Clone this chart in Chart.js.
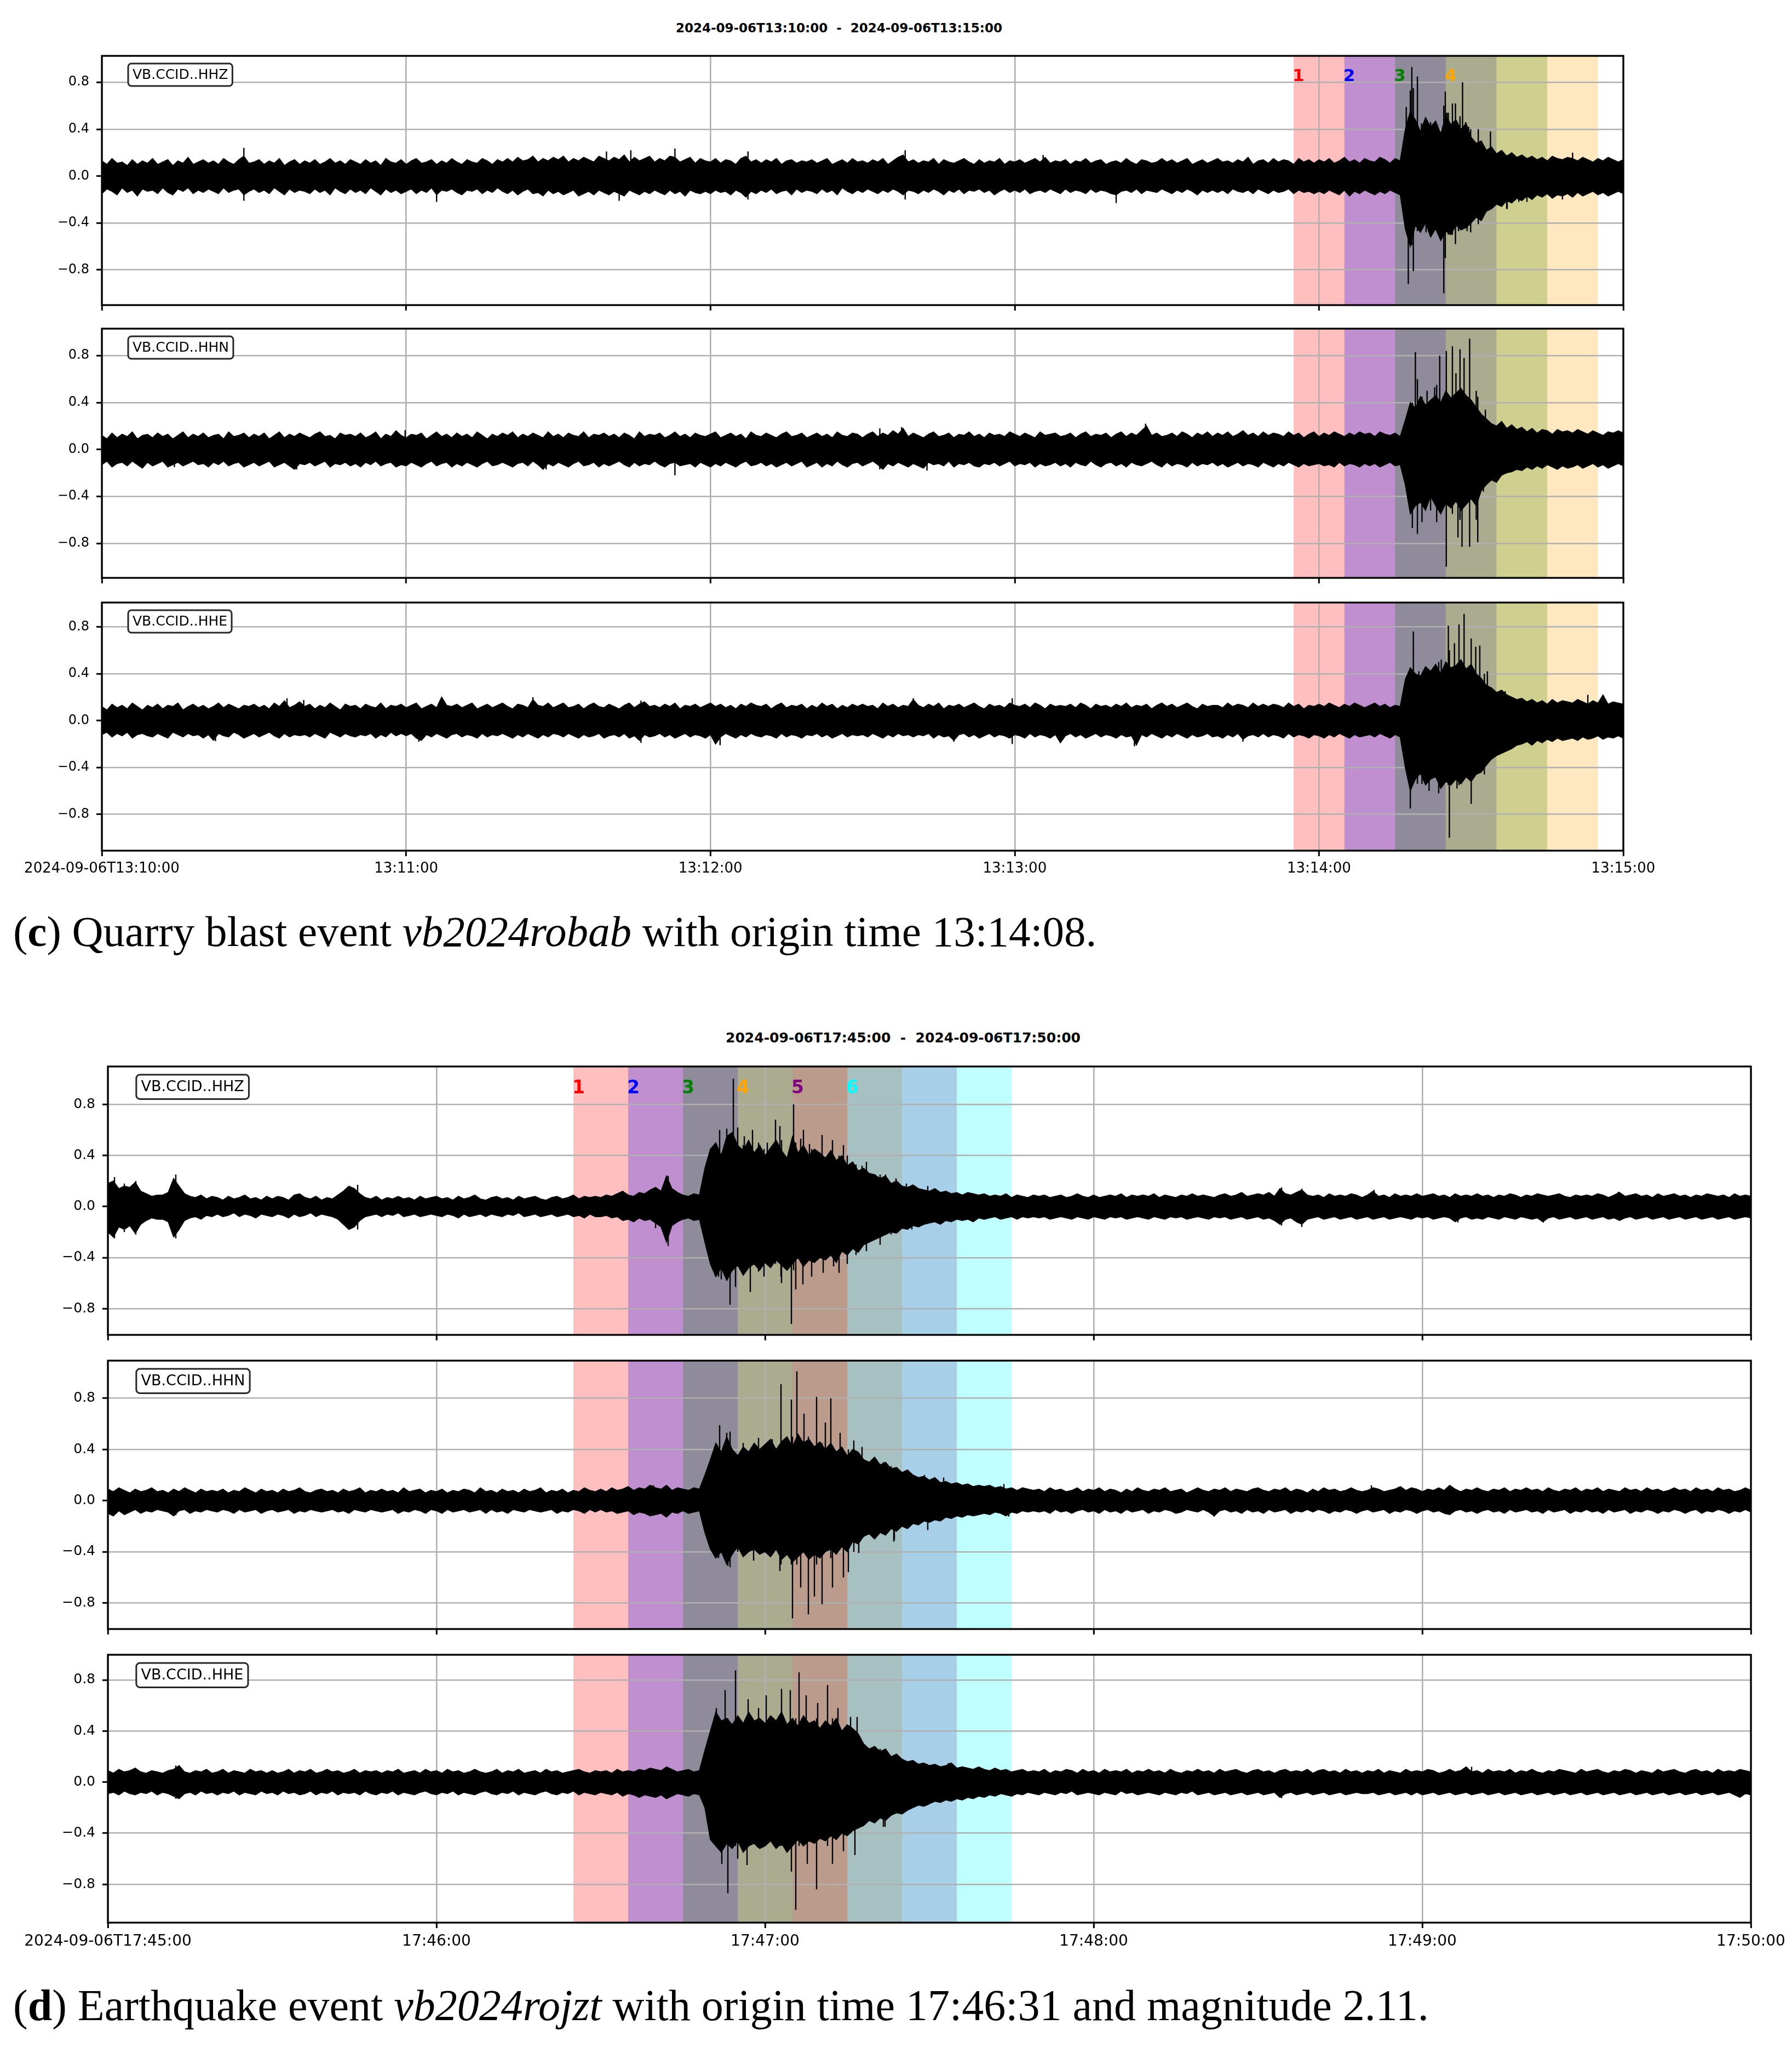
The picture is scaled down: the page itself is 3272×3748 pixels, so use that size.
<!DOCTYPE html>
<html>
<head>
<meta charset="utf-8">
<script src="https://cdn.jsdelivr.net/npm/chart.js@4.4.1/dist/chart.umd.min.js"></script>
<style>
  html, body { margin: 0; padding: 0; background: #fff; }
  body { width: 3272px; height: 3748px; position: relative; overflow: hidden; }
  .panel { position: absolute; left: 0; }
  .title { position: absolute; font-family: 'DejaVu Sans'; font-weight: bold; white-space: pre; line-height: 1; transform: translateX(-50%); color: #000; }
  .caption { position: absolute; left: 24px; font-family: 'Liberation Serif'; white-space: nowrap; color: #000; }
</style>
</head>
<body>
<div class="title" style="left:1532px; top:40px; font-size:23px;">2024-09-06T13:10:00  -  2024-09-06T13:15:00</div>
<div class="caption" style="top:1661px; font-size:79px; line-height:79px;">(<b>c</b>) Quarry blast event <i>vb2024robab</i> with origin time 13:14:08.</div>
<div class="title" style="left:1649px; top:1882px; font-size:25px;">2024-09-06T17:45:00  -  2024-09-06T17:50:00</div>
<div class="caption" style="top:3621px; font-size:80px; line-height:80px;">(<b>d</b>) Earthquake event <i>vb2024rojzt</i> with origin time 17:46:31 and magnitude 2.11.</div>

<script>
// ---- axis / annotation data ----
var tStep = 1; // envelope samples every second, 0..300 s after window start
var xTickSec = [0, 60, 120, 180, 240, 300];
var xLabelsC = ['2024-09-06T13:10:00', '13:11:00', '13:12:00', '13:13:00', '13:14:00', '13:15:00'];
var xLabelsD = ['2024-09-06T17:45:00', '17:46:00', '17:47:00', '17:48:00', '17:49:00', '17:50:00'];
var yTicks = [-0.8, -0.4, 0, 0.4, 0.8];
var stations = ['VB.CCID..HHZ', 'VB.CCID..HHN', 'VB.CCID..HHE'];
var winColors = ['255,0,0', '0,0,255', '0,128,0', '255,165,0', '128,0,128', '0,255,255'];
var winLabels = ['1', '2', '3', '4', '5', '6'];
var winStartC = [235, 245, 255, 265];
var winStartD = [85, 95, 105, 115, 125, 135];
var winLen = 30;
var yMinC = [-1.10, -1.095, -1.11];
var yMaxC = [1.025, 1.03, 1.007];
var yMinD = [-1.006, -1.004, -1.10];
var yMaxD = [1.097, 1.094, 0.997];

// ---- traces: upper / lower envelope per second, amplitude in hundredths ----
var c1Up = [13,10,15,11,12,9,14,10,13,11, 15,10,12,14,9,13,11,16,10,12, 14,11,13,10,15,12,10,14,17,11,
  12,14,10,13,11,15,9,12,14,10, 13,11,14,10,12,15,11,13,10,14, 12,10,14,11,13,9,15,12,11,14,
  10,13,15,11,12,14,10,13,11,15, 12,10,14,12,11,15,13,10,14,12, 15,12,16,13,14,17,12,15,13,16,
  14,17,12,15,13,16,14,12,17,15, 13,16,14,18,12,16,13,15,17,12, 15,13,17,16,12,14,16,11,15,13,
  12,15,11,14,13,10,15,17,12,14, 11,14,12,15,10,13,14,11,13,12, 14,11,13,15,10,12,14,11,15,12,
  13,11,14,12,15,10,13,16,18,12, 14,11,13,12,15,10,14,12,11,13, 15,12,10,14,11,13,12,15,10,13,
  12,14,11,13,15,12,16,11,13,12, 14,10,13,12,15,11,13,14,10,12, 13,11,15,12,10,14,13,11,12,15,
  12,14,11,13,15,10,12,14,11,13, 15,12,13,11,14,12,16,10,13,14, 11,15,12,14,13,10,15,12,14,11,
  14,12,15,11,13,16,12,14,11,15, 13,12,16,14,11,15,13,40,55,48, 38,50,42,47,36,52,44,48,40,45,
  33,28,30,22,25,19,22,17,20,16, 18,15,17,14,16,13,17,15,14,16, 15,13,16,14,12,15,13,16,14,12, 14];
var c1Lo = [-15,-11,-13,-16,-10,-14,-12,-17,-11,-13, -12,-15,-10,-14,-16,-11,-13,-10,-15,-12, -14,-11,-13,-15,-10,-14,-12,-11,-16,-13,
  -11,-14,-12,-15,-10,-13,-16,-11,-14,-12, -13,-15,-11,-14,-12,-16,-10,-13,-15,-11, -14,-12,-15,-10,-13,-16,-11,-14,-12,-15,
  -13,-11,-15,-12,-14,-10,-16,-12,-13,-11, -14,-16,-12,-13,-11,-15,-12,-14,-10,-13, -15,-12,-16,-13,-11,-15,-14,-17,-12,-15,
  -13,-16,-14,-12,-17,-15,-13,-16,-12,-14, -16,-13,-15,-17,-12,-14,-16,-13,-15,-12, -14,-16,-12,-15,-13,-17,-12,-14,-15,-13,
  -15,-12,-14,-13,-16,-12,-14,-18,-13,-15, -12,-14,-11,-15,-13,-12,-16,-11,-14,-12, -13,-15,-11,-14,-12,-16,-10,-13,-15,-12,
  -14,-11,-13,-15,-12,-14,-11,-13,-16,-12, -13,-15,-12,-14,-11,-13,-16,-12,-14,-11, -15,-12,-13,-11,-14,-12,-16,-13,-11,-14,
  -12,-14,-11,-15,-13,-12,-14,-11,-13,-15, -11,-14,-12,-13,-15,-11,-14,-12,-13,-15, -16,-13,-12,-14,-11,-15,-12,-13,-14,-11,
  -13,-15,-12,-14,-11,-13,-16,-12,-14,-12, -14,-12,-15,-11,-13,-14,-12,-15,-11,-13, -15,-12,-14,-13,-11,-15,-12,-14,-13,-15,
  -13,-15,-12,-14,-16,-12,-17,-13,-15,-12, -14,-16,-13,-15,-12,-14,-16,-45,-60,-42, -48,-40,-52,-45,-55,-47,-50,-42,-46,-44,
  -40,-35,-38,-30,-28,-24,-26,-21,-23,-19, -21,-17,-20,-16,-18,-15,-19,-16,-17,-15, -18,-14,-17,-15,-13,-16,-14,-17,-15,-13, -15];
var c1NT = [28, 66, 99.5, 102, 104.3, 113, 127.4, 158.4, 185.6, 200, 246, 257.2, 257.6, 258.0, 258.3, 258.6, 259.4, 261.1,
  264.6, 264.9, 265.5, 266.3, 266.9, 268.3, 268.9, 269.9, 271.4, 272.5, 277, 281, 288, 290,
  260.2, 262, 263.1, 265.2, 267.8, 269.5, 271.4, 273.8, 261.2, 262.6, 263.7, 267.5, 269.2, 272.2, 275.1, 277.1, 279.4];
var c1NH = [24, 10, 21, 12, 22, 23.5, 21, 22, 18, 12, 12, 59, 50, 73, 93, 75, 85, 45, 60, 72, 54, 62, 62, 80, 46, 40, 30, 25, 18, 15, 12, 20,
  45, 46, 45, 54, 51, 42, 40, 38, 0, 0, 0, 0, 0, 0, 0, 0, 0];
var c1NL = [-21, -22, -14, -21, -12, -14, -20, -20, -12, -23, -17, -40, -92, -45, -59, -81, -47, -48, -100, -70, -50, -50, -58, -45, -40, -48, -41, -33, -28, -22, -20, -14,
  0, 0, 0, 0, 0, 0, 0, 0, -41, -41, -46, -47, -47, -33, -24, -28, -22];

var c2Up = [12,9,14,10,13,11,15,9,12,13, 10,14,11,13,9,12,15,10,13,11, 14,10,12,13,9,15,11,12,14,10,
  13,11,14,9,12,15,10,13,11,14, 12,10,13,15,11,12,9,14,12,13, 11,14,10,12,15,9,13,11,16,12,
  10,13,12,14,9,12,15,11,13,10, 14,11,13,10,15,12,9,13,11,14, 12,15,10,13,11,14,12,10,15,11,
  13,10,14,12,11,15,10,13,12,14, 11,13,10,14,12,9,15,11,13,12, 14,10,12,15,11,13,10,14,12,11,
  13,15,10,12,14,11,13,9,15,12, 11,14,12,10,13,15,11,12,14,10, 12,14,11,13,10,15,12,11,14,13,
  10,13,15,11,14,12,16,13,18,11, 14,12,10,13,15,11,12,14,10,13, 12,15,11,13,10,14,12,13,11,15,
  13,11,14,12,10,15,12,13,14,11, 12,14,10,13,15,11,13,12,14,10, 13,15,11,14,12,16,20,12,14,11,
  12,14,11,15,13,10,14,12,15,11, 14,12,15,11,13,16,12,14,11,15, 12,14,13,11,15,12,14,10,13,15,
  11,14,12,15,13,11,14,12,15,13, 14,11,15,13,12,14,11,25,40,35, 45,38,42,46,40,50,44,48,52,46,
  42,36,30,26,22,20,24,18,21,17, 19,15,18,14,17,16,13,17,15,16, 14,17,15,13,16,14,12,15,14,16, 14];
var c2Lo = [-13,-10,-15,-12,-11,-14,-10,-13,-16,-11, -14,-12,-10,-15,-13,-11,-14,-12,-10,-13, -12,-15,-11,-13,-10,-14,-12,-11,-15,-13,
  -11,-14,-12,-10,-15,-13,-11,-14,-17,-12, -13,-11,-14,-12,-10,-15,-12,-13,-11,-14, -12,-15,-11,-13,-10,-14,-12,-11,-15,-13,
  -14,-11,-13,-15,-12,-10,-14,-12,-11,-15, -12,-14,-11,-13,-15,-12,-10,-14,-13,-11, -13,-15,-12,-11,-14,-10,-13,-17,-12,-14,
  -11,-13,-15,-12,-10,-14,-13,-11,-15,-12, -14,-12,-10,-13,-15,-11,-14,-12,-13,-10, -13,-15,-12,-11,-14,-13,-12,-15,-11,-13,
  -15,-12,-14,-11,-13,-15,-12,-10,-14,-13, -11,-14,-12,-15,-13,-11,-14,-12,-10,-15, -13,-11,-15,-12,-14,-10,-13,-15,-12,-11,
  -14,-12,-10,-13,-17,-12,-14,-11,-13,-15, -12,-14,-16,-11,-13,-12,-14,-10,-15,-12, -13,-11,-14,-15,-12,-13,-11,-14,-12,-10,
  -14,-12,-13,-11,-15,-12,-14,-13,-11,-14, -12,-15,-11,-13,-14,-10,-13,-15,-12,-11, -14,-12,-15,-11,-13,-14,-12,-10,-13,-15,
  -11,-14,-12,-13,-15,-11,-14,-12,-13,-11, -14,-12,-15,-13,-11,-14,-12,-13,-15,-11, -13,-15,-12,-14,-11,-13,-15,-12,-14,-13,
  -12,-14,-13,-15,-11,-14,-12,-13,-15,-12, -14,-12,-15,-13,-11,-14,-13,-30,-55,-48, -45,-52,-40,-48,-55,-46,-50,-44,-52,-47,
  -42,-48,-35,-30,-26,-28,-22,-20,-19,-17, -18,-15,-17,-14,-16,-13,-15,-17,-14,-16, -15,-13,-16,-14,-12,-15,-13,-16,-14,-12, -14];
var c2NT = [14.3, 38.4, 59.8, 87.6, 113, 153.4, 157.7, 162.7, 205.8, 258.4, 259, 259.4, 260.3, 261.3, 263.2, 263.8, 265.1, 266.3,
  267.8, 269.7, 271, 271.3, 274.8, 277.6, 289.2,
  261.3, 262.8, 267, 268.6, 272.8, 276.3, 262, 267.4, 268.2, 272.4];
var c2NH = [10, 11, 16.5, 10, 10, 18, 19, 11, 22, 40, 83, 60, 45, 50, 55, 80, 84, 88, 85.5, 94.5, 50, 45, 20, 19, 12,
  45, 53, 65, 78, 34, 19, 0, 0, 0, 0];
var c2NL = [-15, -17, -12, -17, -22, -17, -12, -18, -11, -67, -45, -72, -62, -42, -62, -50, -100, -55, -60, -83, -60, -79, -25, -19, -14,
  0, 0, 0, 0, 0, 0, -52, -75, -83, -36];

var c3Up = [12,9,14,11,13,10,15,12,9,13, 11,14,10,13,12,15,9,12,14,11, 13,10,12,15,11,14,12,10,13,12,
  14,11,13,10,15,12,17,11,13,16, 12,14,10,13,11,15,12,9,14,12, 13,10,14,12,11,15,10,13,12,14,
  11,13,15,10,12,14,11,20,13,12, 14,11,13,15,10,12,14,11,13,15, 12,10,14,13,11,18,13,12,15,11,
  13,15,11,12,14,10,13,15,12,11, 14,12,10,13,15,11,14,16,12,13, 11,14,12,15,10,13,12,14,11,13,
  15,12,14,11,13,10,14,12,15,13, 12,14,10,13,15,11,13,12,14,10, 13,11,15,12,14,10,13,11,14,12,
  14,12,13,10,15,12,14,11,13,12, 18,13,11,14,12,15,10,13,12,14, 11,13,15,12,10,14,12,13,11,15,
  13,12,14,11,15,13,10,14,12,13, 12,14,11,15,13,10,14,12,13,11, 14,12,15,11,13,12,14,10,13,15,
  12,14,11,13,15,12,10,14,12,13, 13,11,15,12,14,13,11,15,12,14, 12,14,13,11,15,12,14,10,13,12,
  14,12,15,13,11,14,12,15,13,11, 13,15,12,14,11,13,12,35,45,40, 38,46,42,48,40,50,45,47,52,44,
  48,40,36,30,28,24,26,22,20,18, 19,16,18,15,17,14,18,15,17,16, 15,18,16,14,17,15,22,14,16,15, 14];
var c3Lo = [-12,-10,-14,-11,-13,-10,-15,-12,-11,-13, -14,-11,-13,-15,-10,-12,-14,-11,-13,-12, -15,-12,-17,-11,-13,-14,-10,-12,-15,-13,
  -11,-14,-12,-10,-13,-15,-11,-14,-12,-13, -12,-14,-11,-13,-15,-10,-12,-14,-11,-13, -14,-12,-13,-11,-15,-12,-14,-10,-13,-11,
  -13,-11,-15,-17,-12,-14,-11,-13,-15,-12, -11,-14,-12,-13,-15,-11,-14,-12,-13,-11, -13,-15,-12,-14,-11,-13,-15,-12,-14,-11,
  -12,-14,-11,-13,-15,-12,-14,-13,-11,-15, -13,-12,-14,-11,-15,-13,-17,-12,-14,-13, -11,-14,-12,-15,-13,-11,-14,-12,-13,-15,
  -12,-20,-14,-11,-13,-15,-12,-14,-11,-13, -14,-12,-13,-15,-11,-14,-12,-13,-15,-12, -13,-11,-14,-12,-15,-13,-11,-14,-12,-13,
  -12,-14,-11,-13,-15,-12,-14,-11,-13,-12, -14,-12,-13,-11,-15,-12,-14,-13,-17,-12, -11,-14,-12,-15,-13,-11,-14,-12,-13,-15,
  -12,-13,-15,-11,-14,-12,-13,-15,-12,-19, -13,-11,-14,-12,-15,-13,-11,-14,-12,-13, -15,-12,-14,-13,-21,-12,-14,-11,-13,-15,
  -12,-14,-11,-13,-15,-12,-14,-13,-11,-14, -13,-15,-12,-14,-11,-16,-13,-12,-14,-11, -14,-12,-13,-15,-11,-14,-12,-13,-15,-12,
  -13,-15,-12,-14,-11,-13,-15,-12,-14,-13, -12,-14,-11,-13,-15,-12,-14,-40,-60,-50, -45,-55,-50,-48,-58,-52,-55,-50,-54,-48,
  -52,-46,-44,-38,-33,-30,-28,-26,-24,-21, -20,-18,-21,-17,-19,-16,-18,-15,-17,-16, -15,-17,-14,-16,-15,-13,-16,-14,-15,-13, -15];
var c3NT = [22.4, 36.5, 39.8, 62.5, 67, 85, 106.3, 121.9, 160, 168, 179.5, 203.6, 225, 258, 258.6, 260.3, 263.6, 265.5, 265.7,
  267.6, 268.6, 270, 271.7, 272.6, 276.7, 293,
  259.7, 262.4, 264.1, 266.7, 270.9, 273.2, 259.4, 261.7, 267.2];
var c3NH = [10, 19, 17.5, 10, 20, 20, 17, 11, 19, 10, 19, 10, 11, 45, 76, 40, 50, 81, 60, 82, 91, 70, 64, 40, 25, 22,
  42, 36, 52, 66, 63, 42, 0, 0, 0];
var c3NL = [-17.5, -10, -11, -18, -10, -11, -19, -21, -10, -18, -20, -22, -18, -75, -50, -54, -62, -55, -100, -55, -50, -71, -45, -46, -26, -12,
  0, 0, 0, 0, 0, 0, -54, -60, -58];

var d1Up = [18,20,14,16,15,19,12,10,8,9, 9,11,22,16,10,8,7,9,6,8, 7,5,8,6,7,9,6,7,5,8,
  6,8,7,5,9,10,7,6,8,5, 7,6,9,12,16,14,10,7,6,8, 5,7,6,8,6,7,5,8,6,7,
  8,6,7,5,8,6,7,9,6,5, 7,8,6,7,5,8,6,7,8,6, 5,7,8,6,7,9,6,8,7,8,
  7,9,8,10,12,9,8,11,10,13, 15,12,24,14,11,9,8,10,9,30, 45,50,40,55,58,48,44,52,42,48,
  40,46,52,44,38,55,42,48,40,45, 42,38,44,36,40,32,35,28,30,26, 25,22,24,18,20,16,15,17,14,13,
  12,14,11,12,10,11,9,11,10,9, 10,8,9,8,10,7,9,8,7,9, 8,9,7,8,9,7,8,10,8,7,
  9,7,8,9,8,10,7,9,8,9, 8,10,7,9,8,7,9,8,10,8, 9,8,7,9,10,8,9,11,8,9,
  10,9,11,8,14,10,9,11,13,9, 8,9,7,10,8,9,8,10,9,7, 9,12,8,9,7,10,8,9,8,10,
  8,9,10,8,9,7,10,8,9,8, 10,8,9,7,9,8,10,9,7,9, 8,10,9,8,9,10,8,7,9,8,
  9,8,10,9,7,9,11,8,9,10, 8,9,7,10,8,9,10,8,9,7, 9,8,10,9,8,9,7,10,8,9, 8];
var d1Lo = [-20,-24,-16,-18,-15,-21,-14,-11,-9,-10, -10,-12,-24,-18,-11,-9,-8,-10,-7,-8, -6,-8,-7,-5,-8,-6,-7,-9,-6,-7,
  -8,-6,-7,-9,-6,-8,-7,-5,-8,-6, -7,-8,-10,-14,-18,-16,-11,-8,-7,-6, -8,-6,-7,-5,-8,-7,-6,-8,-7,-6,
  -7,-8,-6,-7,-9,-6,-8,-7,-6,-8, -6,-7,-8,-6,-7,-5,-8,-7,-6,-8, -7,-6,-8,-7,-6,-8,-7,-9,-6,-8,
  -8,-7,-9,-8,-11,-10,-12,-9,-11,-10, -13,-16,-28,-15,-12,-10,-9,-11,-10,-28, -45,-55,-48,-58,-50,-46,-54,-48,-45,-50,
  -44,-48,-42,-46,-50,-45,-40,-47,-42,-44, -40,-42,-38,-44,-35,-38,-33,-36,-30,-28, -26,-24,-22,-20,-21,-17,-18,-15,-16,-14,
  -13,-12,-14,-11,-12,-10,-11,-10,-12,-9, -10,-9,-8,-10,-9,-8,-10,-8,-9,-8, -9,-8,-10,-9,-8,-9,-10,-8,-9,-10,
  -8,-9,-10,-8,-9,-8,-10,-9,-8,-9, -10,-8,-9,-10,-8,-9,-8,-10,-9,-8, -9,-10,-8,-9,-8,-10,-9,-8,-10,-9,
  -8,-10,-9,-11,-14,-10,-9,-12,-14,-10, -9,-8,-10,-9,-8,-10,-9,-8,-10,-9, -8,-10,-9,-8,-10,-9,-8,-9,-10,-8,
  -9,-8,-10,-9,-8,-9,-12,-9,-8,-10, -9,-10,-8,-9,-10,-8,-9,-10,-8,-9, -10,-9,-12,-9,-8,-10,-9,-8,-10,-9,
  -8,-10,-9,-8,-10,-9,-11,-9,-8,-10, -9,-8,-10,-9,-8,-10,-9,-8,-10,-9, -8,-10,-9,-8,-10,-9,-8,-10,-9,-8, -9];
var d1NT = [1.2, 3.0, 5.1, 12.4, 35, 45.6, 100, 102.3, 111.5, 111.7, 113.6, 114.2, 115, 117.3, 118.8, 121.9, 124.8, 125.2, 125.6,
  130.4, 132.3, 133.5, 136.6, 141, 142, 146.8, 149.7, 214.3, 218, 231.2, 246.5, 262.1, 275.8,
  110.5, 112.5, 116.2, 119.8, 123, 127, 128.5, 135, 138.5,
  110.2, 113, 116, 117.7, 120.4, 122.7, 126.5, 128.1, 134.3, 137.7, 143.9, 145.8,
  110.7, 112, 114.6, 118.8, 122.9, 126.9, 130.6, 132.5, 139.1, 143];
var d1NH = [23, 18, 20, 25, 10, 17, 15, 24, 40, 60, 45, 100, 62, 45, 50, 68, 50, 80, 50, 56, 52, 40, 33, 25, 25, 15, 16, 15, 14, 13, 8, 8, 11.5,
  35, 48, 55, 45, 52, 60, 45, 40, 35,
  42, 61, 48, 60, 50, 63, 53, 49, 48, 32, 22, 18,
  0, 0, 0, 0, 0, 0, 0, 0, 0, 0];
var d1NL = [-25, -20, -22, -25, -7, -18, -17, -31, -55, -40, -77, -50, -47, -67, -40, -45, -92, -50, -65, -40, -40, -52, -38, -30, -20, -18, -12,
  -15, -16, -8, -12.5, -12.5, -8, -38, -50, -40, -55, -60, -45, -55, -45, -35,
  0, 0, 0, 0, 0, 0, 0, 0, 0, 0, 0, 0,
  -44, -57, -63, -51, -55, -61, -52, -47, -27, -22];

var d2Up = [9,7,10,8,6,9,7,8,10,7, 8,6,9,7,10,8,6,9,7,8, 7,9,6,8,7,10,8,6,9,7,
  8,6,9,7,8,10,7,6,8,9, 7,8,6,9,7,8,10,6,8,7, 9,7,8,6,10,7,8,9,6,8,
  7,9,6,8,7,9,8,6,10,7, 8,6,9,7,8,6,9,7,8,10, 6,8,7,9,6,8,7,10,8,7,
  9,7,10,8,9,11,8,10,9,12, 10,9,12,8,10,9,8,10,9,20, 32,45,38,50,40,35,42,38,45,40,
  44,48,40,46,50,42,52,45,48,42, 46,40,45,38,42,35,40,38,32,30, 34,28,30,25,26,22,24,20,18,19,
  16,18,14,15,13,14,12,13,11,12, 11,12,10,11,9,10,8,10,9,8, 9,7,10,8,9,7,8,10,7,9,
  8,10,7,9,8,6,9,7,10,8, 7,9,8,10,7,8,9,6,8,10, 8,7,9,8,10,7,9,8,7,9,
  10,8,7,9,8,10,7,9,8,6, 9,7,10,8,9,7,8,10,8,7, 8,10,9,7,8,9,11,8,10,9,
  7,9,8,10,8,12,9,7,9,8, 10,8,7,9,8,10,7,9,8,10, 8,9,7,10,8,7,9,8,10,7,
  9,8,10,7,9,8,7,10,8,9, 7,10,8,9,7,8,10,8,9,7, 10,8,9,7,10,8,9,7,8,10, 8];
var d2Lo = [-10,-12,-8,-11,-9,-7,-10,-8,-9,-7, -8,-9,-12,-8,-7,-10,-8,-9,-7,-8, -9,-7,-8,-10,-7,-9,-8,-7,-10,-8,
  -7,-9,-8,-7,-10,-8,-9,-7,-8,-9, -8,-7,-9,-8,-10,-7,-8,-9,-7,-8, -9,-8,-7,-10,-8,-9,-7,-8,-10,-7,
  -8,-10,-7,-9,-8,-7,-9,-8,-7,-10, -7,-9,-8,-10,-7,-8,-9,-7,-8,-9, -8,-7,-10,-8,-9,-7,-8,-10,-7,-9,
  -7,-9,-8,-10,-9,-8,-11,-9,-10,-12, -11,-10,-13,-9,-10,-8,-10,-9,-8,-25, -38,-45,-40,-50,-42,-36,-44,-40,-38,-42,
  -40,-44,-38,-46,-42,-48,-44,-40,-46,-42, -45,-40,-38,-42,-36,-40,-32,-34,-28,-26, -30,-25,-27,-22,-24,-20,-22,-18,-19,-16,
  -17,-15,-16,-13,-14,-12,-13,-11,-12,-11, -10,-11,-9,-10,-12,-9,-10,-8,-9,-8, -9,-8,-10,-7,-9,-8,-10,-8,-7,-9,
  -8,-10,-7,-9,-8,-10,-7,-9,-8,-7, -10,-8,-9,-7,-8,-10,-9,-7,-8,-9, -7,-9,-12,-8,-7,-9,-8,-10,-7,-9,
  -8,-10,-7,-9,-8,-7,-10,-8,-9,-7, -9,-7,-8,-10,-8,-9,-7,-8,-10,-8, -7,-9,-8,-7,-10,-8,-9,-7,-8,-10,
  -8,-7,-9,-8,-10,-11,-8,-7,-9,-8, -10,-8,-7,-9,-8,-10,-7,-9,-8,-7, -9,-8,-10,-7,-9,-8,-7,-10,-8,-9,
  -7,-9,-8,-10,-7,-9,-8,-7,-10,-8, -9,-7,-8,-10,-8,-9,-7,-8,-10,-8, -7,-10,-8,-9,-7,-8,-10,-8,-9,-7, -9];
var d2NT = [111.5, 111.7, 113.6, 120.8, 122.9, 124.8, 125, 125.8, 127.9, 129.4, 130.4, 132, 135.2, 136.2, 137.1, 143, 143.5, 149.1,
  149.7, 163.6, 164.5, 3.2, 12.4, 99.6, 102, 202, 230.7, 245,
  113, 116, 118.8, 121.3, 127.1, 131, 133.7, 137.7, 141.6, 146.8, 152.6,
  113.2, 115, 117.9, 122.7, 126.5, 129, 132.3, 134.3, 140, 143.6, 147.8];
var d2NH = [40, 59, 54, 45, 91, 79, 50, 101, 50, 81, 45, 80, 40, 47, 35, 27, 20, 20, 15, 13, 8, 6, 6, 12, 8, 6, 12, 11,
  53, 45, 49, 48, 68, 61, 53, 42, 30, 20, 18,
  0, 0, 0, 0, 0, 0, 0, 0, 0, 0, 0];
var d2NL = [-45, -40, -52, -41, -50, -50, -92, -50, -89, -50, -81, -45, -56, -40, -41, -22, -32, -15, -23, -8, -12.5, -11, -11.5, -8, -12.5, -12.5, -7, -10,
  0, 0, 0, 0, 0, 0, 0, 0, 0, 0, 0,
  -51, -40, -47, -55, -68, -75, -68, -60, -25, -31, -18];

var d3Up = [9,7,10,8,9,11,8,7,9,8, 7,9,10,13,8,7,9,8,10,7, 8,10,7,9,8,7,10,8,9,7,
  9,7,8,10,7,9,8,10,7,8, 10,8,9,7,8,10,7,9,8,9, 7,9,8,10,7,8,9,7,10,8,
  9,7,10,8,9,7,8,10,8,7, 8,10,7,9,8,10,7,8,9,7, 10,8,9,7,8,9,10,8,7,9,
  8,9,7,10,8,9,8,10,9,11, 10,9,12,10,8,9,10,8,9,25, 40,55,48,50,45,52,46,55,48,50,
  46,52,48,55,45,50,44,52,46,48, 42,48,44,50,40,45,42,38,30,26, 28,24,26,20,22,18,16,17,14,15,
  13,14,12,13,15,11,12,11,10,12, 10,9,11,9,10,8,9,10,8,9, 8,10,7,9,8,10,9,7,10,8,
  9,7,10,8,9,8,10,7,9,8, 10,8,9,7,10,8,7,9,8,10, 8,9,7,10,8,9,10,8,7,9,
  10,8,9,7,9,10,8,9,8,10, 7,9,10,8,9,7,10,8,9,7, 9,8,10,7,9,8,7,10,8,9,
  8,10,9,7,8,10,8,9,12,8, 9,7,10,8,9,8,10,7,9,8, 10,8,7,9,8,10,9,8,7,10,
  8,9,10,8,7,9,8,10,9,7, 9,8,7,10,8,9,10,8,7,9, 10,8,9,7,10,8,9,8,10,9, 8];
var d3Lo = [-9,-8,-10,-7,-9,-10,-8,-9,-7,-10, -8,-9,-11,-13,-9,-8,-10,-7,-9,-8, -10,-8,-9,-7,-10,-8,-9,-10,-7,-9,
  -8,-10,-7,-9,-8,-10,-9,-7,-10,-8, -9,-7,-10,-8,-9,-8,-10,-7,-9,-10, -8,-9,-7,-10,-8,-9,-10,-8,-7,-9,
  -10,-8,-9,-7,-10,-8,-9,-10,-8,-7, -9,-10,-8,-9,-7,-10,-8,-9,-10,-8, -7,-9,-10,-8,-9,-7,-10,-8,-9,-10,
  -8,-9,-10,-8,-11,-9,-10,-12,-10,-11, -12,-10,-13,-11,-9,-10,-11,-9,-10,-20, -45,-50,-55,-48,-52,-46,-55,-50,-48,-52,
  -50,-46,-52,-48,-55,-50,-45,-50,-46,-48, -44,-46,-42,-45,-40,-42,-38,-36,-34,-30, -32,-28,-30,-26,-24,-25,-22,-20,-18,-19,
  -17,-15,-16,-14,-15,-13,-14,-12,-13,-11, -12,-10,-11,-9,-10,-11,-9,-10,-8,-9, -10,-8,-9,-10,-8,-9,-7,-10,-9,-8,
  -9,-10,-8,-9,-10,-7,-9,-8,-10,-9, -8,-9,-10,-8,-9,-10,-8,-9,-7,-10, -9,-8,-10,-9,-8,-10,-9,-8,-10,-9,
  -8,-10,-9,-8,-12,-9,-8,-10,-9,-8, -10,-9,-8,-10,-9,-8,-10,-9,-8,-9, -9,-8,-10,-9,-8,-10,-9,-8,-10,-8,
  -10,-9,-8,-10,-9,-8,-10,-9,-8,-10, -9,-8,-10,-9,-8,-10,-9,-8,-10,-9, -8,-10,-9,-8,-10,-9,-8,-10,-9,-8,
  -10,-9,-8,-10,-9,-8,-10,-9,-8,-10, -9,-8,-10,-9,-8,-10,-9,-8,-10,-9, -8,-10,-9,-8,-10,-9,-8,-10,-12,-9, -10];
var d3NT = [114.6, 126.2, 123, 120.2, 131.4, 135.6, 111.1, 141, 153.5, 113.2, 125.6, 129.4, 116.7, 132.3, 136.4, 141.6, 110, 149.7,
  12.4, 5, 102, 214.3, 249,
  112.7, 116.9, 118.8, 124.6, 127.5, 129.6, 133.3, 136.8, 140, 145.8, 148.7,
  112.1, 115, 118.6, 122.7, 124.8, 127.7, 134.3, 138.1, 141.9];
var d3NH = [87.5, 86, 73, 68, 76, 51, 58, 26, 15, 50, 50, 50, 45, 50, 40, 20, 30, 12, 13, 11, 11, 7, 12,
  72, 65, 58, 72, 68, 62, 58, 51, 26, 16, 15,
  0, 0, 0, 0, 0, 0, 0, 0, 0];
var d3NL = [-50, -50, -50, -45, -50, -40, -45, -25, -12, -87, -100, -84, -65, -64, -57, -35, -18, -18, -13, -8, -12, -12.5, -7,
  0, 0, 0, 0, 0, 0, 0, 0, 0, 0, 0,
  -64, -60, -51, -50, -70, -64, -54, -28, -35];

// ---- layout ----
var W = 3272;
var PAD_T = 40;

var times = [];
for (var t = 0; t <= 300; t += tStep) times.push(t);

function envelope(vals) {
  return vals.map(function (v, i) { return { x: times[i], y: v / 100 }; });
}

function needles(nT, nH, nL) {
  var pts = [];
  nT.forEach(function (t, i) {
    pts.push({ x: t, y: nL[i] / 100 }, { x: t, y: nH[i] / 100 }, { x: t, y: null });
  });
  return pts;
}

function fmtY(v) {
  return (v < 0 ? '\u2212' : '') + Math.abs(v).toFixed(1);
}

// shaded analysis windows, under the grid
var bandsPlugin = {
  id: 'bands',
  beforeDraw: function (chart, args, o) {
    var ctx = chart.ctx, a = chart.chartArea, x = chart.scales.x;
    ctx.save();
    ctx.beginPath();
    ctx.rect(a.left, a.top, a.right - a.left, a.bottom - a.top);
    ctx.clip();
    o.starts.forEach(function (s, i) {
      var x0 = x.getPixelForValue(s), x1 = x.getPixelForValue(s + winLen);
      ctx.fillStyle = 'rgba(' + winColors[i] + ',0.25)';
      ctx.fillRect(x0, a.top, x1 - x0, a.bottom - a.top);
    });
    ctx.restore();
  }
};

// window numbers, station box and frame on top
var overlayPlugin = {
  id: 'overlay',
  afterDraw: function (chart, args, o) {
    var ctx = chart.ctx, a = chart.chartArea, x = chart.scales.x, s = o.s;
    ctx.save();
    if (o.numbers) {
      ctx.font = 'bold ' + Math.round(31 * s) + 'px "DejaVu Sans"';
      ctx.textAlign = 'left';
      ctx.textBaseline = 'alphabetic';
      o.starts.forEach(function (st, i) {
        ctx.fillStyle = 'rgb(' + winColors[i] + ')';
        ctx.fillText(winLabels[i], x.getPixelForValue(st) - 2, a.top + 0.1 * (a.bottom - a.top));
      });
    }
    ctx.font = Math.round(25 * s) + 'px "DejaVu Sans"';
    var tw = ctx.measureText(o.station).width;
    var bx = a.left + 48 * s, by = a.top + 14 * s, bw = tw + 16 * s, bh = 41 * s;
    ctx.beginPath();
    ctx.roundRect(bx, by, bw, bh, 6 * s);
    ctx.fillStyle = '#fff';
    ctx.fill();
    ctx.lineWidth = 3;
    ctx.strokeStyle = '#262626';
    ctx.stroke();
    ctx.fillStyle = '#000';
    ctx.textAlign = 'left';
    ctx.textBaseline = 'middle';
    ctx.fillText(o.station, bx + 8 * s, by + bh / 2 + 1);
    ctx.lineWidth = 3.3;
    ctx.strokeStyle = '#000';
    ctx.strokeRect(a.left, a.top, a.right - a.left, a.bottom - a.top);
    ctx.restore();
  }
};

var panels = [
  { top: 102, bottom: 557, left: 186, right: 2964, up: c1Up, lo: c1Lo, nT: c1NT, nH: c1NH, nL: c1NL, ch: 0, fig: 'c' },
  { top: 600, bottom: 1055, left: 186, right: 2964, up: c2Up, lo: c2Lo, nT: c2NT, nH: c2NH, nL: c2NL, ch: 1, fig: 'c' },
  { top: 1100, bottom: 1553, left: 186, right: 2964, up: c3Up, lo: c3Lo, nT: c3NT, nH: c3NH, nL: c3NL, ch: 2, fig: 'c' },
  { top: 1947, bottom: 2437, left: 197, right: 3197, up: d1Up, lo: d1Lo, nT: d1NT, nH: d1NH, nL: d1NL, ch: 0, fig: 'd' },
  { top: 2484, bottom: 2974, left: 197, right: 3197, up: d2Up, lo: d2Lo, nT: d2NT, nH: d2NH, nL: d2NL, ch: 1, fig: 'd' },
  { top: 3021, bottom: 3510, left: 197, right: 3197, up: d3Up, lo: d3Lo, nT: d3NT, nH: d3NH, nL: d3NL, ch: 2, fig: 'd' }
];

panels.forEach(function (p) {
  var isC = p.fig === 'c';
  var s = isC ? 1 : 1.08;
  var last = p.ch === 2;
  var axisH = last ? 70 : 14;
  var padB = last ? 0 : 24;
  var h = PAD_T + (p.bottom - p.top) + axisH + padB;

  var div = document.createElement('div');
  div.className = 'panel';
  div.style.top = (p.top - PAD_T) + 'px';
  var canvas = document.createElement('canvas');
  canvas.width = W;
  canvas.height = h;
  canvas.style.width = W + 'px';
  canvas.style.height = h + 'px';
  div.appendChild(canvas);
  document.body.appendChild(div);

  var xLabels = isC ? xLabelsC : xLabelsD;

  new Chart(canvas, {
    type: 'line',
    data: {
      datasets: [
        { data: envelope(p.up), borderColor: '#000', borderWidth: 1.5, fill: false },
        { data: envelope(p.lo), borderColor: '#000', borderWidth: 1.5, backgroundColor: '#000', fill: '-1' },
        { data: needles(p.nT, p.nH, p.nL), borderColor: '#000', borderWidth: 2.4, fill: false, spanGaps: false }
      ]
    },
    options: {
      responsive: false,
      animation: false,
      devicePixelRatio: 1,
      events: [],
      elements: { point: { radius: 0 }, line: { tension: 0 } },
      layout: { autoPadding: false, padding: { left: 0, right: W - p.right, top: PAD_T, bottom: padB } },
      plugins: {
        legend: { display: false },
        tooltip: { enabled: false },
        bands: { starts: isC ? winStartC : winStartD },
        overlay: { starts: isC ? winStartC : winStartD, numbers: p.ch === 0, station: stations[p.ch], s: s }
      },
      scales: {
        x: {
          type: 'linear', min: 0, max: 300, offset: false,
          afterFit: function (sc) { sc.height = axisH; },
          afterBuildTicks: function (sc) { sc.ticks = xTickSec.map(function (v) { return { value: v }; }); },
          ticks: {
            display: last, autoSkip: false, maxRotation: 0, minRotation: 0, padding: 8, color: '#000',
            font: { family: 'DejaVu Sans', size: Math.round(25.5 * s) },
            callback: function (v, i) { return xLabels[i]; }
          },
          grid: { color: '#b0b0b0', lineWidth: 2.6, drawTicks: true, tickLength: 10, tickColor: '#000', tickWidth: 3, offset: false },
          border: { display: false }
        },
        y: {
          type: 'linear', min: isC ? yMinC[p.ch] : yMinD[p.ch], max: isC ? yMaxC[p.ch] : yMaxD[p.ch],
          afterFit: function (sc) { sc.width = p.left; },
          afterBuildTicks: function (sc) { sc.ticks = yTicks.map(function (v) { return { value: v }; }); },
          ticks: {
            padding: 13, color: '#000',
            font: { family: 'DejaVu Sans', size: Math.round(23.5 * s) },
            callback: function (v) { return fmtY(v); }
          },
          grid: { color: '#b0b0b0', lineWidth: 2.6, drawTicks: true, tickLength: 10, tickColor: '#000', tickWidth: 3 },
          border: { display: false }
        }
      }
    },
    plugins: [bandsPlugin, overlayPlugin]
  });
});
</script>
</body>
</html>
